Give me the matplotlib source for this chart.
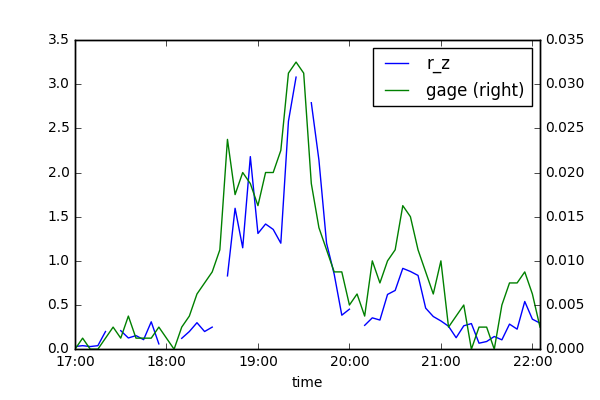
import numpy as np
import pandas as pd
import matplotlib
matplotlib.use("Agg")
import matplotlib.pyplot as plt
import matplotlib.dates as mdates

plt.style.use("classic")

nan = np.nan
start_time = "2000-01-01 17:00"
step = "5min"

r_z = [0.03, 0.04, 0.03, 0.04, 0.20, nan, 0.21, 0.127, 0.154, 0.108,
       0.31, 0.06, nan, nan, 0.123, 0.20, 0.30, 0.20, 0.25, nan,
       0.83, 1.595, 1.148, 2.18, 1.31, 1.417, 1.356, 1.20, 2.58, 3.08,
       nan, 2.79, 2.14, 1.20, 0.85, 0.385, 0.453, nan, 0.27, 0.355,
       0.33, 0.62, 0.665, 0.915, 0.88, 0.835, 0.465, 0.37, 0.32, 0.26,
       0.13, 0.265, 0.29, 0.068, 0.087, 0.144, 0.106, 0.284, 0.227, 0.54,
       0.34, 0.295]

gage = [0.0, 0.00125, 0.0, 0.0, 0.00125, 0.0025, 0.00125, 0.00375, 0.00125, 0.00125,
        0.00125, 0.0025, 0.00125, 0.0, 0.0025, 0.00375, 0.00625, 0.0075, 0.00875, 0.01125,
        0.02375, 0.0175, 0.02, 0.01875, 0.01625, 0.02, 0.02, 0.0225, 0.03125, 0.0325,
        0.03125, 0.01875, 0.01375, 0.01125, 0.00875, 0.00875, 0.005, 0.00625, 0.00375, 0.01,
        0.0075, 0.01, 0.01125, 0.01625, 0.015, 0.01125, 0.00875, 0.00625, 0.01, 0.0025,
        0.00375, 0.005, 0.0, 0.0025, 0.0025, 0.0, 0.005, 0.0075, 0.0075, 0.00875,
        0.00625, 0.0025]

times = pd.date_range(start_time, periods=len(r_z), freq=step).to_pydatetime()

fig = plt.figure(figsize=(6, 4), dpi=100, facecolor="white")
ax = fig.add_axes([0.125, 0.127, 0.775, 0.773])
ax2 = ax.twinx()

l1, = ax.plot(times, r_z, color="b", lw=1, label="r_z")
l2, = ax2.plot(times, gage, color="g", lw=1, label="gage (right)")

ax.set_xlim(times[0], times[-1])
ax.set_ylim(0, 3.5)
ax2.set_ylim(0, 0.035)
ax.set_yticks(np.arange(0, 3.51, 0.5))
ax2.set_yticks(np.arange(0, 0.0351, 0.005))

ax.xaxis.set_major_locator(mdates.HourLocator())
ax.xaxis.set_major_formatter(mdates.DateFormatter("%H:%M"))
ax.xaxis.set_minor_locator(mdates.HourLocator())
ax.set_xlabel("time", fontsize=10)

for a in (ax, ax2):
    a.tick_params(labelsize=10)

ax2.legend([l1, l2], ["r_z", "gage (right)"], loc="upper right", fontsize=12,
           numpoints=2, borderaxespad=0.5, fancybox=False)

fig.savefig("out.png", dpi=100, facecolor="white")
